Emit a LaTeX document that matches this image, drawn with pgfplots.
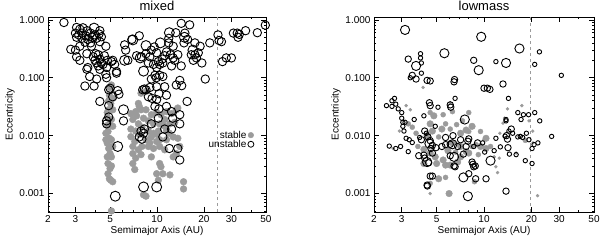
\documentclass[border=0pt]{standalone}
\usepackage{fontspec}
\setmainfont{Liberation Sans}
\usepackage{pgfplots}
\pgfplotsset{compat=1.18}
\definecolor{stab}{RGB}{155,155,155}
\begin{document}
\begin{tikzpicture}
\useasboundingbox (0,0) rectangle (600pt,241pt);
% ---------------- mixed ----------------
\begin{axis}[xmode=log, ymode=log, scale only axis, height=195pt, width=218pt,
  at={(48pt,29pt)}, anchor=south west,
  xmin=2, xmax=50, ymin=0.00048, ymax=1.12,
  xtick={2,3,5,10,20,30,50}, xticklabels={2,3,5,10,20,30,50},
  minor xtick={4,6,7,8,9,40},
  ytick={0.001,0.01,0.1,1}, yticklabels={0.001,0.010,0.100,1.000},
  minor ytick={0.0005,0.0006,0.0007,0.0008,0.0009,0.002,0.003,0.004,0.005,0.006,0.007,0.008,0.009,0.02,0.03,0.04,0.05,0.06,0.07,0.08,0.09,0.2,0.3,0.4,0.5,0.6,0.7,0.8,0.9},
  tick align=inside, xtick pos=both, ytick pos=both,
  major tick length=5pt, minor tick length=2.5pt,
  tick style={line width=0.6pt, black},
  axis line style={line width=0.7pt},
  tick label style={font=\fontsize{10}{12}\selectfont},
  xlabel style={font=\fontsize{10}{12}\selectfont, yshift=3pt},
  ylabel style={font=\fontsize{10}{12}\selectfont, yshift=-2pt},
  xlabel={Semimajor Axis (AU)}, ylabel={Eccentricity},
  title={mixed}, title style={font=\fontsize{13}{15}\selectfont, yshift=-3pt}]
\addplot[only marks, mark=*, mark size=3.4pt, draw=stab, fill=stab] coordinates {
(5.0,0.068)(4.95,0.05)(5.05,0.036)(4.9,0.028)(4.85,0.02)(4.8,0.015)(4.85,0.0118)(4.95,0.009)
(4.8,0.0074)(4.9,0.006)(5.0,0.0049)(4.8,0.0043)(4.85,0.0033)(5.0,0.0027)(4.85,0.0022)(4.95,0.0018)
(5.2,0.0016)(5.2,0.044)(5.2,0.028)(5.2,0.0145)(4.7,0.011)(4.7,0.0085)(5.1,0.019)(5.2,0.0065)
(5.1,0.0085)(5.1,0.0043)(5.1,0.003)(5.1,0.0005)(5.05,0.0017)(5.1,0.075)(4.9,0.04)(4.8,0.025)
(6.8,0.024)(7.3,0.026)(7.9,0.028)(8.5,0.028)(9.2,0.023)(9.95,0.025)(10.6,0.023)(11.5,0.026)
(12.4,0.024)(13.3,0.028)(13.6,0.03)(7.0,0.019)(7.6,0.016)(8.2,0.02)(8.8,0.018)(9.5,0.016)
(10.4,0.016)(11.2,0.019)(12.1,0.016)(13,0.017)(6.8,0.013)(7.3,0.012)(8.8,0.012)(9.5,0.011)
(10.2,0.012)(11.5,0.0125)(6.8,0.0096)(7.2,0.0079)(8.5,0.0085)(9.2,0.0095)(9.95,0.0079)(10.4,0.0085)
(11.5,0.0085)(12.7,0.0095)(13.6,0.009)(7.0,0.0065)(7.6,0.0057)(8.8,0.0065)(9.5,0.006)(10.4,0.0065)
(11.2,0.0057)(7.0,0.0049)(7.3,0.0041)(7.9,0.0047)(9.2,0.0043)(7.0,0.0033)(7.2,0.0026)(10.4,0.0033)
(10.6,0.0029)(9.95,0.0022)(10.9,0.0022)(12.1,0.0021)(10.2,0.0017)(12.7,0.0043)(13.3,0.0049)(14,0.0065)
(14.8,0.0016)(14.8,0.0012)(8.2,0.00095)(8.5,0.0009)(7.7,0.032)(7.6,0.036)(7.9,0.054)(8.5,0.058)
(7.4,0.022)(8.0,0.014)(7.7,0.0105)(8.0,0.0065)(9.0,0.0075)(10.0,0.0105)(11.0,0.015)(12.0,0.011)
};
\addplot[only marks, mark=o, mark size=4.2pt, draw=black, line width=0.9pt] coordinates {
(2.53,0.9)(3.05,0.74)(3.2,0.69)(3.35,0.73)(3.57,0.65)(4.3,0.65)(3.0,0.59)(3.15,0.55)
(3.3,0.59)(3.5,0.53)(3.75,0.59)(4.0,0.55)(4.25,0.57)(3.05,0.5)(3.3,0.48)(3.6,0.46)
(3.85,0.5)(4.1,0.48)(4.4,0.51)(3.45,0.41)(3.75,0.4)(4.3,0.42)(2.8,0.31)(3.0,0.3)
(3.2,0.35)(3.05,0.23)(3.2,0.2)(3.55,0.26)(3.8,0.35)(4.7,0.35)(3.55,0.14)(3.6,0.15)
(4.05,0.26)(3.9,0.23)(4.2,0.25)(4.0,0.2)(4.3,0.21)(4.1,0.18)(4.4,0.18)(4.2,0.16)
(4.5,0.17)(4.3,0.14)(4.75,0.15)(5.1,0.19)(5.2,0.2)(5.35,0.17)(4.8,0.2)(4.6,0.24)
(3.7,0.105)(4.1,0.095)(3.95,0.072)(3.45,0.072)(4.7,0.115)(4.75,0.1)(5.5,0.128)(5.5,0.12)
(4.3,0.039)(4.9,0.062)(5.0,0.066)(5.2,0.047)(5.6,0.06)(5.7,0.052)(4.9,0.033)(4.9,0.021)
(4.75,0.018)(4.75,0.016)(6.1,0.018)
(6.2,0.37)(6.3,0.3)(6.5,0.2)(6.9,0.46)(7.7,0.53)(7.4,0.24)(7.95,0.23)(8.5,0.26)
(9.0,0.23)(9.2,0.3)(9.6,0.34)(9.95,0.27)(10.2,0.19)(10.4,0.17)(10.8,0.21)(11.2,0.24)
(10.9,0.18)(11.5,0.28)(11.9,0.4)(12.4,0.16)(12.7,0.22)(13,0.2)(9.95,0.15)(9.5,0.17)
(8.8,0.18)(9.7,0.11)(10.4,0.11)(9.2,0.095)(9.9,0.1)(10.9,0.105)
(8.5,0.062)(8.1,0.062)(8.3,0.064)(9.0,0.068)(9.95,0.07)(8.8,0.047)(9.3,0.044)(10.3,0.053)
(9.95,0.042)(11.2,0.07)(11.5,0.05)(9.7,0.032)(10.3,0.029)(13.3,0.075)(14.4,0.073)(15.6,0.039)
(14,0.09)(14.3,0.16)(13.6,0.25)(14.9,0.4)(15.1,0.59)(14.3,0.87)(16.2,0.82)(13.2,0.6)
(15.7,0.46)(17.5,0.4)(16.6,0.25)(17.5,0.25)(17.1,0.2)(18.4,0.27)(18.9,0.35)(19.4,0.18)
(17.9,0.22)(20.4,0.095)(21.8,0.4)(24.6,0.55)(25,0.44)(25.9,0.42)(26.3,0.19)(27.8,0.22)
(30,0.22)(30.9,0.59)(32.7,0.59)(33.1,0.5)(33.7,0.56)(37,0.65)(44,0.6)(49.5,0.81)
(11.9,0.48)(12.7,0.35)(12.2,0.25)
(11.5,0.032)(12.4,0.026)(12.6,0.02)(14,0.023)(14,0.016)(12.4,0.013)(11.2,0.013)(10.2,0.02)
(9.2,0.016)(7.7,0.0095)(8.0,0.0087)(8.2,0.011)(7.9,0.012)(10.9,0.0095)(12,0.006)(13.6,0.006)
(14,0.0038)(8.3,0.013)
};
\addplot[only marks, mark=o, mark size=5pt, draw=black, line width=0.9pt] coordinates {
(3.95,0.72)(8.2,0.13)(6.1,0.028)(5.6,0.0065)(5.4,0.0009)(8.2,0.0013)(9.95,0.0013)(7.0,0.45)
(6.2,0.2)(7.8,0.22)(12.0,0.6)(15.0,0.5)(17.0,0.3)(8.5,0.36)(10.5,0.4)
};
% key symbols
\addplot[only marks, mark=*, mark size=2.8pt, draw=stab, fill=stab] coordinates {(40,0.0102)};
\addplot[only marks, mark=o, mark size=3pt, draw=black, line width=0.8pt] coordinates {(40,0.0071)};
\node[anchor=east, inner sep=0pt, font=\fontsize{10}{11}\selectfont] at (axis cs:37.6,0.0102) {stable};
\node[anchor=east, inner sep=0pt, font=\fontsize{10}{11}\selectfont] at (axis cs:37.6,0.0071) {unstable};
\addplot[stab, dashed, line width=0.6pt] coordinates {(24.3,0.00048)(24.3,1.12)};
\end{axis}
% ---------------- lowmass ----------------
\begin{axis}[xmode=log, ymode=log, scale only axis, height=195pt, width=220pt,
  at={(374pt,29pt)}, anchor=south west,
  xmin=2, xmax=50, ymin=0.00048, ymax=1.12,
  xtick={2,3,5,10,20,30,50}, xticklabels={2,3,5,10,20,30,50},
  minor xtick={4,6,7,8,9,40},
  ytick={0.001,0.01,0.1,1}, yticklabels={0.001,0.010,0.100,1.000},
  minor ytick={0.0005,0.0006,0.0007,0.0008,0.0009,0.002,0.003,0.004,0.005,0.006,0.007,0.008,0.009,0.02,0.03,0.04,0.05,0.06,0.07,0.08,0.09,0.2,0.3,0.4,0.5,0.6,0.7,0.8,0.9},
  tick align=inside, xtick pos=both, ytick pos=both,
  major tick length=5pt, minor tick length=2.5pt,
  tick style={line width=0.6pt, black},
  axis line style={line width=0.7pt},
  tick label style={font=\fontsize{10}{12}\selectfont},
  xlabel style={font=\fontsize{10}{12}\selectfont, yshift=3pt},
  ylabel style={font=\fontsize{10}{12}\selectfont, yshift=-2pt},
  xlabel={Semimajor Axis (AU)}, ylabel={Eccentricity},
  title={lowmass}, title style={font=\fontsize{13}{15}\selectfont, yshift=-3pt}]
\addplot[only marks, mark=*, mark size=1.5pt, draw=stab, fill=stab] coordinates {
(4.1,0.068)(3.2,0.033)(2.65,0.006)(4.55,0.001)(11.6,0.0043)(12.5,0.0041)(11.9,0.0029)(12.2,0.0023)
(14.1,0.029)(13.5,0.02)(17.4,0.033)(19.3,0.018)(20.4,0.012)(21.9,0.00092)(16,0.005)(10,0.0085)
(13.2,0.0165)(12.6,0.011)(3.4,0.028)(2.9,0.012)(6.1,0.037)(20.5,0.0075)
};
\addplot[only marks, mark=*, mark size=2.5pt, draw=stab, fill=stab] coordinates {
(5.15,0.0095)(3.7,0.011)(3.5,0.014)(3.8,0.0065)(6.6,0.0052)(8.4,0.0065)(8.9,0.007)(11,0.0065)
(8.0,0.0118)(9.5,0.0118)(7.3,0.018)(6.7,0.0155)(6.1,0.013)(5.7,0.016)(6.3,0.026)(5.5,0.023)
(4.55,0.025)(5.7,0.0019)(8.7,0.0016)(9.2,0.0047)(18.3,0.0083)(8.0,0.025)(4.55,0.0015)(3.3,0.016)
};
\addplot[only marks, mark=*, mark size=3.3pt, draw=stab, fill=stab] coordinates {
(4.8,0.022)(4.55,0.016)(4.7,0.012)(4.35,0.01)(4.15,0.0058)(4.55,0.005)(4.9,0.0043)(4.15,0.0033)
(5.0,0.0033)(5.5,0.0038)(5.7,0.0031)(6.1,0.0031)(6.8,0.0035)(7.1,0.0043)(7.1,0.0065)(7.7,0.0053)
(8.0,0.005)(9.5,0.0065)(10.3,0.006)(7.1,0.011)(7.7,0.0125)(8.4,0.0145)(10.3,0.009)(5.4,0.013)
(5.15,0.0018)(6.0,0.001)(6.3,0.0075)(5.9,0.0055)
};
\addplot[only marks, mark=o, mark size=2.2pt, draw=black, line width=0.9pt] coordinates {
(22.5,0.28)(21,0.17)(31,0.11)(3.95,0.26)(3.95,0.22)(4.0,0.18)(4.0,0.12)(3.4,0.1)
(11.9,0.19)(14.3,0.044)(2.4,0.033)(2.6,0.04)(2.7,0.044)(2.75,0.035)(2.6,0.032)(2.85,0.029)
(3.0,0.025)(3.0,0.02)(3.05,0.017)(3.6,0.019)(4.15,0.022)(5.1,0.031)(6.55,0.044)(16.4,0.025)
(17.8,0.023)(17.2,0.019)(19.2,0.023)(21,0.025)(22.6,0.018)(13.8,0.019)(3.15,0.017)
(3.05,0.0145)(3.1,0.012)(3.35,0.0085)(3.5,0.0076)(3.9,0.0093)(4.3,0.011)(4.9,0.0145)
(8.6,0.0065)(9.8,0.0075)(10.1,0.0052)(11.6,0.0055)(11.9,0.009)(12.7,0.0064)(13.6,0.0098)
(14.4,0.012)(15.2,0.011)(16.4,0.0095)(17.0,0.0097)(17.6,0.0093)(14.5,0.0048)(16,0.0047)
(18.6,0.011)(19.3,0.0085)(20.2,0.006)(20.8,0.007)(18.3,0.0037)(20.2,0.0033)(26.9,0.0097)
(2.95,0.0065)(2.5,0.0066)(2.75,0.006)(3.3,0.0053)(13.8,0.018)(3.2,0.009)(22,0.0075)
};
\addplot[only marks, mark=o, mark size=3.2pt, draw=black, line width=0.9pt] coordinates {
(3.3,0.21)(3.5,0.11)(3.7,0.095)(4.35,0.09)(4.55,0.088)(6.45,0.085)(6.5,0.093)(8.6,0.2)
(10,0.066)(10.5,0.066)(10.9,0.063)(13.2,0.078)(4.5,0.037)(4.55,0.033)(6.1,0.034)(6.15,0.031)
(4.0,0.0085)(4.2,0.012)(4.4,0.0095)(4.55,0.0082)(4.7,0.0068)(4.95,0.0062)(4.6,0.006)(4.7,0.005)
(5.4,0.0065)(5.7,0.007)(6.1,0.0071)(5.7,0.0093)(6.35,0.01)(6.8,0.0065)(7.1,0.0085)(7.7,0.0065)
(7.9,0.008)(8.0,0.0088)(14.1,0.0087)(14.2,0.0062)(14.9,0.013)(13.9,0.01)(3.85,0.0045)(4.15,0.0046)
(4.2,0.0041)(4.45,0.0034)(4.35,0.0014)(4.37,0.00135)(4.55,0.002)(4.7,0.002)(6.1,0.0045)
(6.45,0.003)(6.55,0.0029)(8.0,0.0022)(8.4,0.0035)(8.5,0.0032)(8.6,0.0029)(8.8,0.003)
(8.85,0.0018)(10.3,0.0018)(13.8,0.0011)(9.1,0.0075)(7.4,0.0048)
};
\addplot[only marks, mark=o, mark size=4.6pt, draw=black, line width=0.9pt] coordinates {
(3.15,0.67)(9.6,0.51)(5.6,0.265)(16.8,0.32)(3.7,0.16)(9.25,0.135)(13.8,0.18)(7.55,0.019)
(4.5,0.0073)(6.3,0.0071)(4.35,0.0035)(6.45,0.0043)(7.4,0.0019)(7.9,0.0009)(11,0.0037)
};
\addplot[stab, dashed, line width=0.6pt] coordinates {(19.8,0.00048)(19.8,1.12)};
\end{axis}
\end{tikzpicture}
\end{document}
